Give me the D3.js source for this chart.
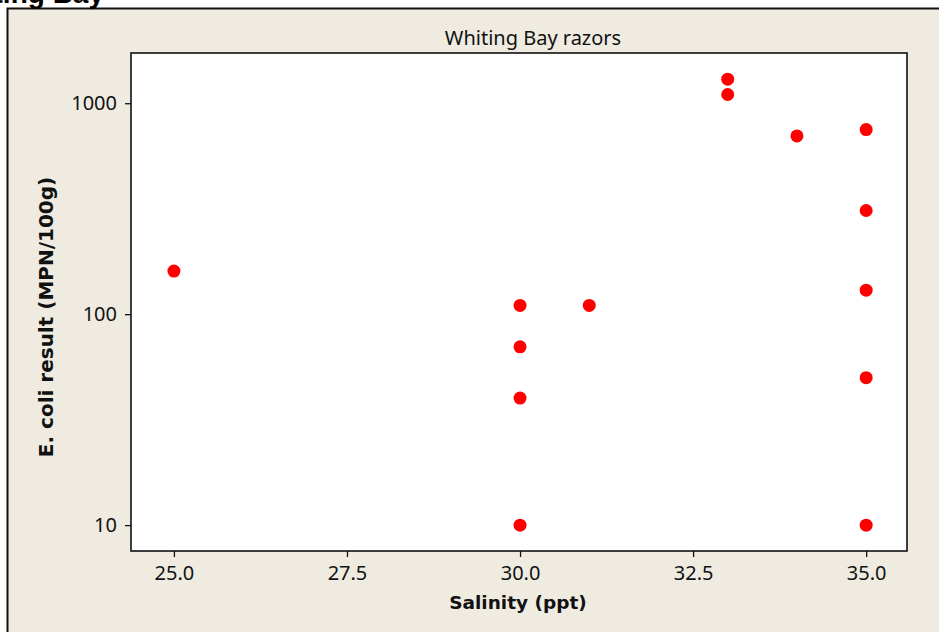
<!DOCTYPE html>
<html>
<head>
<meta charset="utf-8">
<script src="https://cdn.jsdelivr.net/npm/d3@7"></script>
<style>
  html, body { margin: 0; padding: 0; background: #ffffff; }
  svg { display: block; }
</style>
</head>
<body>
<svg id="chart" width="939" height="632"></svg>
<script>
// Data
const salinity = [25, 30, 30, 30, 30, 31, 33, 33, 34, 35, 35, 35, 35, 35];
const ecoli    = [160, 110, 70, 40, 10, 110, 1300, 1100, 700, 750, 310, 130, 50, 10];
const xTicks = [25.0, 27.5, 30.0, 32.5, 35.0];
const yTicks = [10, 100, 1000];
const chartTitle = "Whiting Bay razors";
const pageTitle = "Whiting Bay";
const xLabel = "Salinity (ppt)";
const yLabel = "E. coli result (MPN/100g)";

const W = 939, H = 632;
const plot = { left: 131, top: 53, right: 907, bottom: 551 };
const svg = d3.select("#chart");
const font = "'Noto Sans', 'DejaVu Sans', sans-serif";
const boldFont = "'DejaVu Sans', 'Noto Sans', sans-serif";

// page background (white) then beige frame
svg.append("rect").attr("x", 0).attr("y", 0).attr("width", W).attr("height", H).attr("fill", "#ffffff");
svg.append("rect").attr("x", 7.5).attr("y", 8.5).attr("width", W + 10).attr("height", H + 10)
  .attr("fill", "#efebe1").attr("stroke", "#111").attr("stroke-width", 2);

// cut-off page title
svg.append("text").attr("x", 104).attr("y", 3)
  .attr("text-anchor", "end")
  .style("font-family", "'Liberation Sans', Arial, sans-serif")
  .style("font-weight", "bold").style("font-size", "28px").attr("fill", "#000")
  .text(pageTitle);

// scales
const x = d3.scaleLinear().domain([24.38, 35.59]).range([plot.left, plot.right]);
const y = d3.scaleLog().domain([7.54, 1730]).range([plot.bottom, plot.top]);

// plot area
svg.append("rect").attr("x", plot.left).attr("y", plot.top)
  .attr("width", plot.right - plot.left).attr("height", plot.bottom - plot.top)
  .attr("fill", "#ffffff").attr("stroke", "#111").attr("stroke-width", 1.6);

// axes
const xAxis = d3.axisBottom(x).tickValues(xTicks).tickFormat(d3.format(".1f")).tickSize(6).tickPadding(9);
const yAxis = d3.axisLeft(y).tickValues(yTicks).tickFormat(d3.format("d")).tickSize(6).tickPadding(8);

const gx = svg.append("g").attr("transform", `translate(0,${plot.bottom})`).call(xAxis);
const gy = svg.append("g").attr("transform", `translate(${plot.left},0)`).call(yAxis);
[gx, gy].forEach(g => {
  g.select(".domain").remove();
  g.selectAll(".tick line").attr("stroke", "#111").attr("stroke-width", 1.3);
  g.selectAll(".tick text").attr("fill", "#111")
    .style("font-family", font).style("font-size", "20px");
});

// points
svg.append("g").selectAll("circle")
  .data(salinity.map((s, i) => ({ s, v: ecoli[i] })))
  .join("circle")
  .attr("cx", d => x(d.s)).attr("cy", d => y(d.v)).attr("r", 6.5)
  .attr("fill", "#ff0000");

// titles
svg.append("text").attr("x", 533).attr("y", 45)
  .attr("text-anchor", "middle").attr("fill", "#111")
  .style("font-family", font).style("font-size", "20px")
  .text(chartTitle);

svg.append("text").attr("x", 518).attr("y", 609)
  .attr("text-anchor", "middle").attr("fill", "#111")
  .style("font-family", boldFont).style("font-weight", "bold").style("font-size", "18.5px")
  .text(xLabel);

svg.append("text").attr("transform", `translate(53,317) rotate(-90)`)
  .attr("text-anchor", "middle").attr("fill", "#111")
  .style("font-family", boldFont).style("font-weight", "bold").style("font-size", "20px")
  .text(yLabel);
</script>
</body>
</html>
